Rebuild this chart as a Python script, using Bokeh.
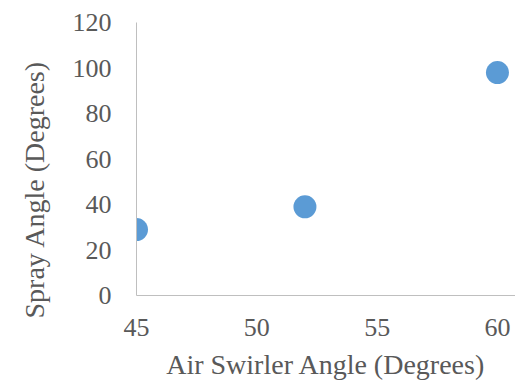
from bokeh.plotting import figure
from bokeh.models import Range1d, FixedTicker, Title
from bokeh.embed import file_html
from bokeh.resources import INLINE

# Air swirler angle vs. measured spray cone angle
swirler_angle = [45, 52, 60]
spray_angle = [29, 39, 98]
x_ticks = [45, 50, 55, 60]
y_ticks = [0, 20, 40, 60, 80, 100, 120]

FONT = "Liberation Serif"
TEXT = "#595959"
AXIS = "#BFBFBF"

p = figure(width=515, height=385, output_backend="svg", toolbar_location=None,
           x_range=Range1d(45, 60.75), y_range=Range1d(0, 120),
           min_border_left=136, min_border_right=0, min_border_top=22,
           min_border_bottom=90)
p.outline_line_color = None
p.xgrid.visible = False
p.ygrid.visible = False

p.scatter(swirler_angle, spray_angle, size=23, fill_color="#5B9BD5",
          line_color="#5B9BD5", line_width=0)

for ax in (p.xaxis[0], p.yaxis[0]):
    ax.axis_line_color = AXIS
    ax.major_tick_line_color = None
    ax.minor_tick_line_color = None
    ax.major_tick_out = 0
    ax.major_tick_in = 0
    ax.minor_tick_out = 0
    ax.major_label_text_font = FONT
    ax.major_label_text_font_size = "26px"
    ax.major_label_text_color = TEXT
    ax.axis_label_text_font = FONT
    ax.axis_label_text_font_size = "28px"
    ax.axis_label_text_font_style = "normal"
    ax.axis_label_text_color = TEXT

p.xaxis.ticker = FixedTicker(ticks=x_ticks)
p.yaxis.ticker = FixedTicker(ticks=y_ticks)
p.xaxis.axis_label = "Air Swirler Angle (Degrees)"
p.xaxis.major_label_standoff = 23
p.xaxis.axis_label_standoff = 10
p.yaxis.major_label_standoff = 25

# vertical axis title as a side title, starting a little below the frame
p.add_layout(Title(text="Spray Angle (Degrees)", align="left", offset=-23,
                   standoff=35, vertical_align="top", text_font=FONT,
                   text_font_size="28px", text_font_style="normal",
                   text_color=TEXT), "left")

open("out.html", "w").write(file_html(p, INLINE))
